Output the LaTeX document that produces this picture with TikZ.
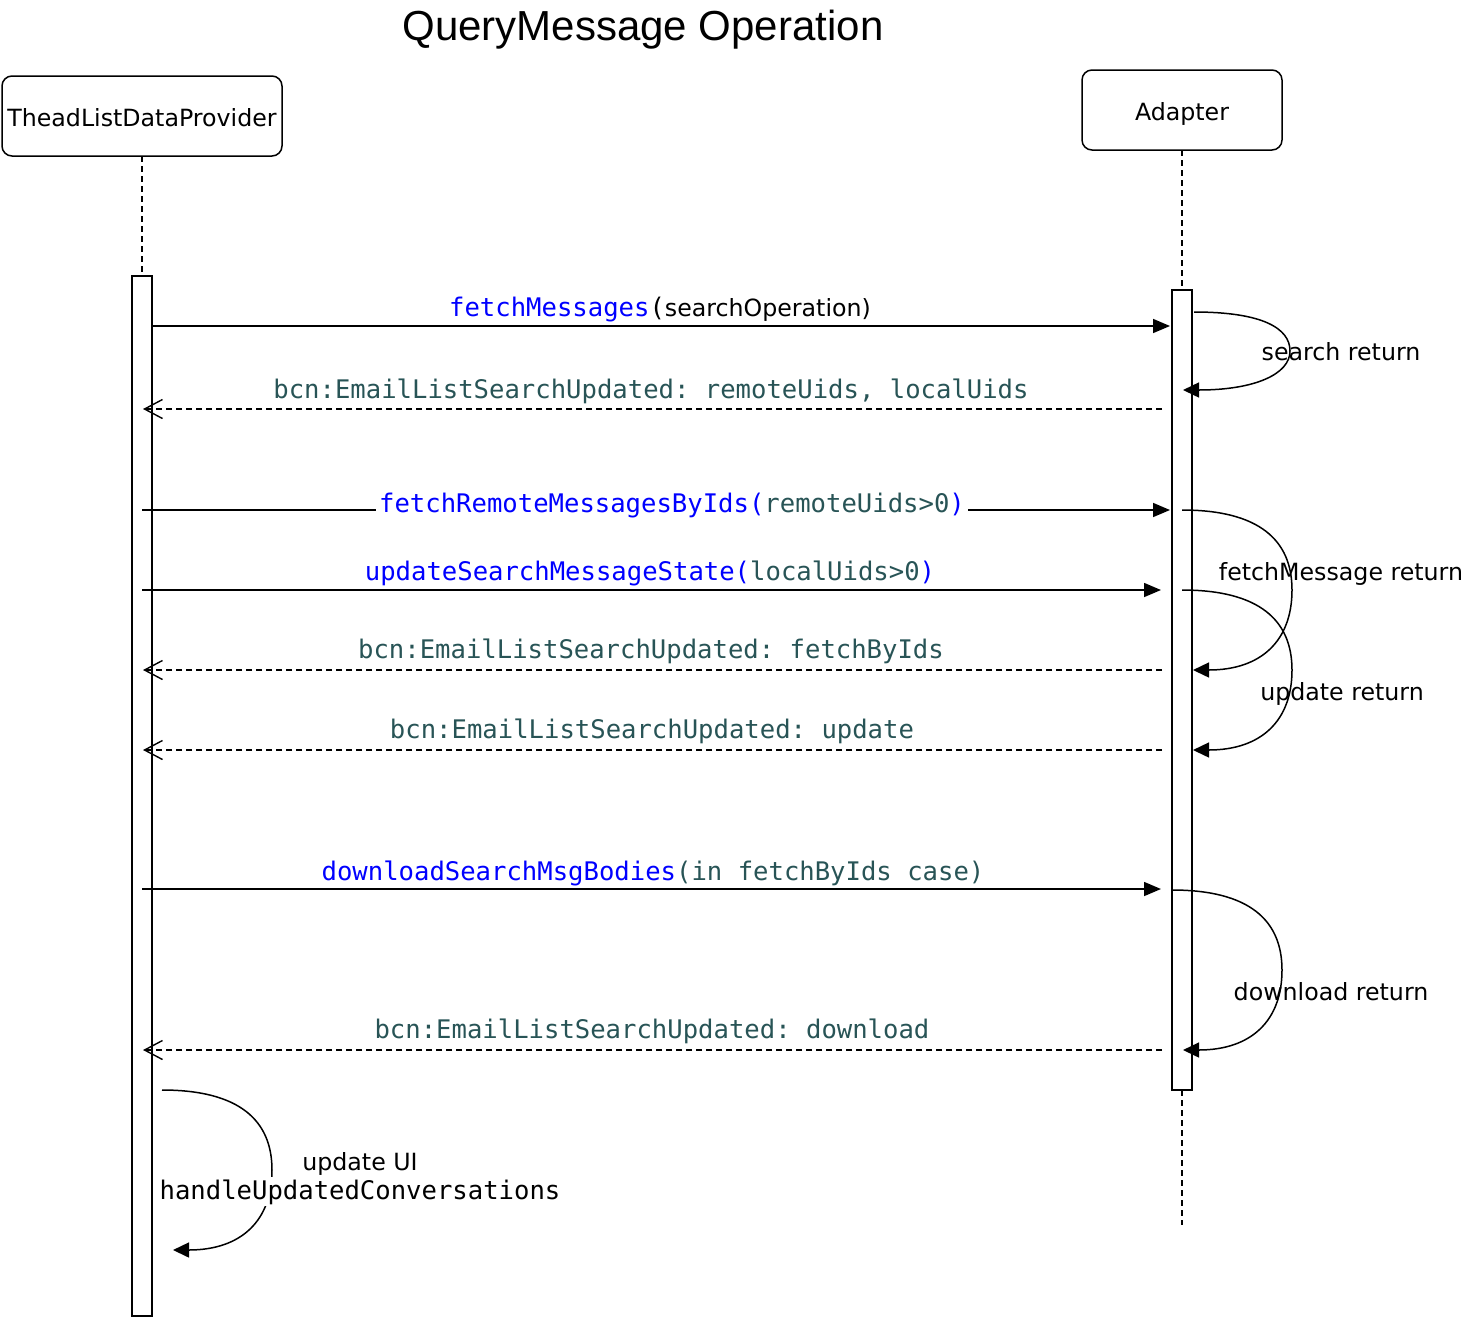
\documentclass[tikz,border=0pt]{standalone}
\usepackage{fontspec}
\setmainfont{DejaVu Sans}
\setmonofont{DejaVu Sans Mono}
\newfontfamily\titlefont{Liberation Sans}
\usetikzlibrary{arrows.meta}
\definecolor{kwblue}{RGB}{0,0,255}
\definecolor{teal}{RGB}{40,84,86}
\newcommand{\mono}{\ttfamily\fontsize{25.6}{30}\selectfont}
\newcommand{\lbl}{\fontsize{23.7}{28}\selectfont}
\begin{document}
\begin{tikzpicture}[x=1pt,y=-1pt,
  every node/.style={inner sep=1pt},
  box/.style={draw,line width=1.5pt,rounded corners=10pt,fill=white},
  lifeline/.style={line width=1.5pt,dash pattern=on 6pt off 4pt},
  actbar/.style={draw,line width=1.6pt,fill=white},
  msg/.style={line width=1.6pt,-{Triangle[length=17pt,width=14pt]}},
  ret/.style={line width=1.5pt,dash pattern=on 6pt off 4pt,-{Straight Barb[length=18pt,width=19pt,line width=1.4pt]}},
  loopa/.style={line width=1.5pt,-{Triangle[length=16pt,width=15pt]}},
  monolbl/.style={anchor=base,font=\mono},
  sanslbl/.style={anchor=base,font=\lbl}]
\useasboundingbox (0,0) rectangle (1466,1318);

% title
\node[anchor=base,font=\titlefont\fontsize{42}{48}\selectfont] (title) at (643,40) {QueryMessage Operation};

% participants
\draw[box] (2,76) rectangle (282,156);
\node[sanslbl] (tldp) at (142,126) {TheadListDataProvider};
\draw[box] (1082,70) rectangle (1282,150);
\node[sanslbl] (adp) at (1182,120) {Adapter};

% lifelines
\coordinate (llLtop) at (142,156);
\coordinate (llLbot) at (142,276);
\coordinate (llRtop) at (1182,150);
\coordinate (llRbot) at (1182,290);
\coordinate (llRend0) at (1182,1090);
\coordinate (llRend) at (1182,1225);
\draw[lifeline] (llLtop) -- (llLbot);
\draw[lifeline] (llRtop) -- (llRbot);
\draw[lifeline] (llRend0) -- (llRend);

% activation bars
\draw[actbar] (132,276) rectangle (152,1316);
\draw[actbar] (1172,290) rectangle (1192,1090);

% message endpoints
\coordinate (m1s) at (152,326);  \coordinate (m1e) at (1170,326);
\coordinate (m2s) at (1162,409); \coordinate (m2e) at (143,409);
\coordinate (m3s) at (142,510);  \coordinate (m3e) at (1170,510);
\coordinate (m4s) at (142,590);  \coordinate (m4e) at (1161,590);
\coordinate (m5s) at (1162,670); \coordinate (m5e) at (143,670);
\coordinate (m6s) at (1162,750); \coordinate (m6e) at (143,750);
\coordinate (m7s) at (142,889);  \coordinate (m7e) at (1161,889);
\coordinate (m8s) at (1162,1050);\coordinate (m8e) at (143,1050);

\draw[msg] (m1s) -- (m1e);
\draw[ret] (m2s) -- (m2e);
\draw[msg] (m3s) -- (m3e);
\draw[msg] (m4s) -- (m4e);
\draw[ret] (m5s) -- (m5e);
\draw[ret] (m6s) -- (m6e);
\draw[msg] (m7s) -- (m7e);
\draw[ret] (m8s) -- (m8e);

% message labels
\node[anchor=base] (l1) at (660,316) {{\mono\color{kwblue}fetchMessages}{\mono(}{\lbl searchOperation)}};
\node[monolbl,text=teal] (l2) at (651,398) {bcn:EmailListSearchUpdated: remoteUids, localUids};
\node[monolbl,fill=white,inner sep=3pt] (l3) at (672,512) {{\color{kwblue}fetchRemoteMessagesByIds(}{\color{teal}remoteUids>0}{\color{kwblue})}};
\node[monolbl] (l4) at (650,580) {{\color{kwblue}updateSearchMessageState(}{\color{teal}localUids>0}{\color{kwblue})}};
\node[monolbl,text=teal] (l5) at (651,658) {bcn:EmailListSearchUpdated: fetchByIds};
\node[monolbl,text=teal] (l6) at (652,738) {bcn:EmailListSearchUpdated: update};
\node[monolbl] (l7) at (653,880) {{\color{kwblue}downloadSearchMsgBodies}{\color{teal}(in fetchByIds case)}};
\node[monolbl,text=teal] (l8) at (652,1038) {bcn:EmailListSearchUpdated: download};

% self loops
\coordinate (s1s) at (1194,312); \coordinate (s1e) at (1183,390);
\draw[loopa] (s1s) .. controls (1262,312) and (1290,328) .. (1290,351)
  .. controls (1290,374) and (1255,390) .. (s1e);
\node[sanslbl] (s1l) at (1341,360) {search return};

\coordinate (s2s) at (1182,510); \coordinate (s2e) at (1193,670);
\draw[loopa] (s2s) .. controls (1259,510) and (1292,540) .. (1292,590)
  .. controls (1292,640) and (1262,670) .. (s2e);
\node[sanslbl] (s2l) at (1341,580) {fetchMessage return};

\coordinate (s3s) at (1182,590); \coordinate (s3e) at (1193,750);
\draw[loopa] (s3s) .. controls (1259,590) and (1292,620) .. (1292,670)
  .. controls (1292,720) and (1262,750) .. (s3e);
\node[sanslbl] (s3l) at (1342,700) {update return};

\coordinate (s4s) at (1172,890); \coordinate (s4e) at (1183,1050);
\draw[loopa] (s4s) .. controls (1249,890) and (1282,920) .. (1282,970)
  .. controls (1282,1020) and (1252,1050) .. (s4e);
\node[sanslbl] (s4l) at (1331,1000) {download return};

\coordinate (s5s) at (162,1090); \coordinate (s5e) at (173,1250);
\draw[loopa] (s5s) .. controls (239,1090) and (272,1120) .. (272,1170)
  .. controls (272,1220) and (242,1250) .. (s5e);
\node[sanslbl] (s5l) at (360,1170) {update UI};
\node[monolbl,fill=white,inner sep=2pt] (s5m) at (360,1199) {handleUpdatedConversations};
\end{tikzpicture}
\end{document}
